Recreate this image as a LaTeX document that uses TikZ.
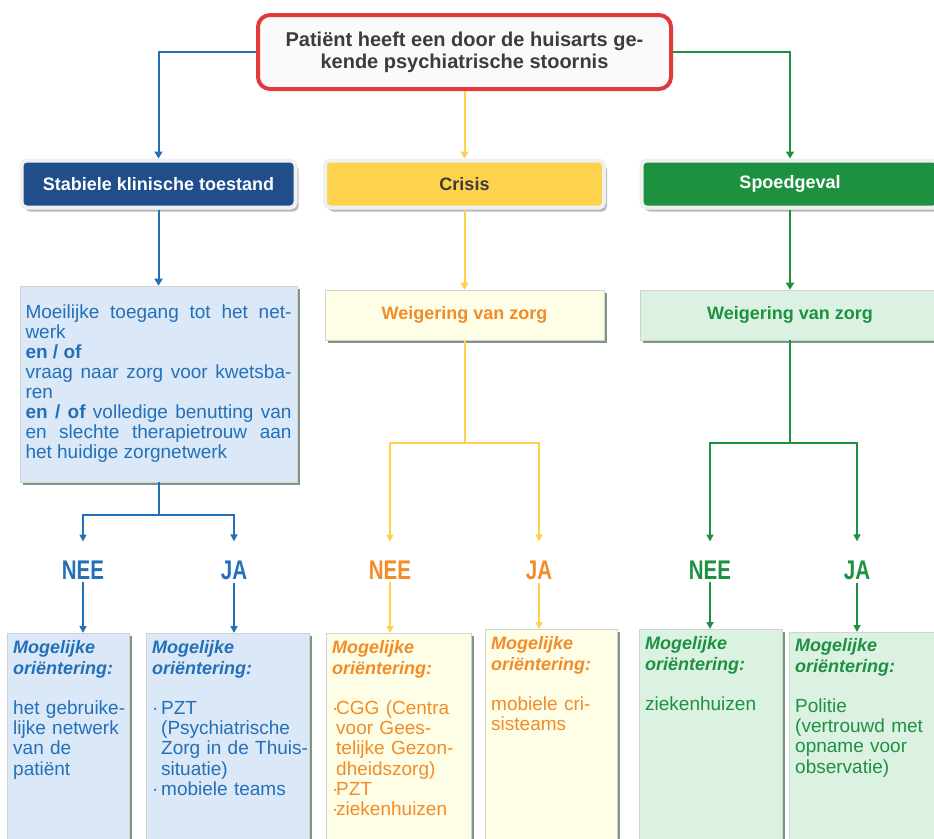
\documentclass[tikz,border=0pt]{standalone}
\usepackage{fontspec}
\setmainfont{Liberation Sans}
\usetikzlibrary{arrows.meta,shadows}

\definecolor{rood}{HTML}{E03A3C}
\definecolor{donkerblauw}{HTML}{1F4E8B}
\definecolor{blauw}{HTML}{2470B8}
\definecolor{lichtblauw}{HTML}{DAE8F7}
\definecolor{geel}{HTML}{FDD34D}
\definecolor{lichtgeel}{HTML}{FEFEE7}
\definecolor{oranje}{HTML}{F28C28}
\definecolor{groen}{HTML}{1E9141}
\definecolor{lichtgroen}{HTML}{DBF1E2}
\definecolor{donkergrijs}{HTML}{3C3C3C}
\definecolor{schaduw}{HTML}{7F9686}

\newcommand\kopje{{\bfseries\itshape\fontsize{18}{20}\selectfont Mogelijke\\oriëntering:}}

\begin{document}
\begin{tikzpicture}[x=1pt,y=-1pt,
        kop/.style={rounded corners=5pt, draw=gray!12, line width=4pt, minimum height=47pt,
            font=\bfseries\fontsize{18}{20}\selectfont,
            drop shadow={shadow xshift=3pt,shadow yshift=-4pt,fill=black!60,opacity=0.45}},
        vlak/.style={draw=gray!35, line width=0.6pt,
            drop shadow={shadow xshift=3pt,shadow yshift=-3pt,fill=schaduw,opacity=1}},
        lijn/.style={line width=2pt, -{Triangle[width=8pt,length=7pt]}},
        pijl/.style={line width=1.6pt, -{Triangle[width=7pt,length=7pt]}},
        keuze/.style={font=\bfseries\fontsize{27}{27}\selectfont, inner sep=0pt, xscale=0.76, transform shape},
        tekst/.style={anchor=north west, inner sep=0pt, align=left, text width=200pt,
            font=\fontsize{19}{20.3}\selectfont}]
            \useasboundingbox (0,0) rectangle (934,838);

            % 顶部方框
            \node[draw=rood, line width=4pt, rounded corners=12pt, fill=gray!4,
                minimum width=413pt, minimum height=74pt, align=center, text=donkergrijs,
                font=\bfseries\fontsize{20}{22}\selectfont] (pat) at (464.5,52)
                {Patiënt heeft een door de huisarts ge-\\kende psychiatrische stoornis};

            \node[kop, fill=donkerblauw, text=white, minimum width=274pt] (stab) at (158.5,184) {Stabiele klinische toestand};
            \node[kop, fill=geel, text=donkergrijs, minimum width=279pt] (cris) at (464.5,184) {Crisis};
            \node[kop, fill=groen, text=white, minimum width=297pt] (spoed) at (790,184) {Spoedgeval};

            \draw[lijn, blauw] (pat.west) -| (stab.north);
            \draw[lijn, geel] (pat.south) -- (cris.north);
            \draw[lijn, groen] (pat.east) -| (spoed.north);

            \node[vlak, fill=lichtblauw, minimum width=277pt, minimum height=196pt, inner sep=5pt,
                text width=266pt, align=justify, text=blauw, font=\fontsize{19}{20}\selectfont] (moei) at (158.5,384)
                {Moeilijke toegang tot het net-\linebreak werk\\
                \textbf{en / of}\\
                vraag naar zorg voor kwetsba-\linebreak ren\\
                \textbf{en / of} volledige benutting van\linebreak
                en slechte therapietrouw aan\linebreak
                het huidige zorgnetwerk};
            \node[vlak, fill=lichtgeel, minimum width=279pt, minimum height=50pt, text=oranje,
                font=\bfseries\fontsize{18}{20}\selectfont] (weig1) at (464.5,315) {Weigering van zorg};
            \node[vlak, fill=lichtgroen, minimum width=300pt, minimum height=50pt, text=groen,
                font=\bfseries\fontsize{18}{20}\selectfont] (weig2) at (790,315) {Weigering van zorg};

            \draw[lijn, blauw] (stab.south) -- (moei.north);
            \draw[lijn, geel] (cris.south) -- (weig1.north);
            \draw[lijn, groen] (spoed.south) -- (weig2.north);

            % NEE / JA
            \node[keuze, text=blauw] (bnee) at (83,570) {NEE};
            \node[keuze, text=blauw] (bja) at (234,570) {JA};
            \node[keuze, text=oranje] (onee) at (390,570) {NEE};
            \node[keuze, text=oranje] (oja) at (539,570) {JA};
            \node[keuze, text=groen] (gnee) at (710,570) {NEE};
            \node[keuze, text=groen] (gja) at (857,570) {JA};

            \coordinate (bsplit) at (158.5,515);
            \coordinate (osplit) at (464.5,443);
            \coordinate (gsplit) at (790,443);

            \draw[line width=2pt, blauw] (moei.south) -- (bsplit);
            \draw[pijl, blauw, shorten >=19pt] (bsplit) -| (bnee.north);
            \draw[pijl, blauw, shorten >=19pt] (bsplit) -| (bja.north);
            \draw[line width=2pt, geel] (weig1.south) -- (osplit);
            \draw[pijl, geel, shorten >=19pt] (osplit) -| (onee.north);
            \draw[pijl, geel, shorten >=19pt] (osplit) -| (oja.north);
            \draw[line width=2pt, groen] (weig2.south) -- (gsplit);
            \draw[pijl, groen, shorten >=19pt] (gsplit) -| (gnee.north);
            \draw[pijl, groen, shorten >=19pt] (gsplit) -| (gja.north);

            % onderste vakken
            \node[vlak, fill=lichtblauw, anchor=north west, minimum width=122pt, minimum height=220pt] (bb1) at (7,633) {};
            \node[vlak, fill=lichtblauw, anchor=north west, minimum width=163pt, minimum height=220pt] (bb2) at (146,633) {};
            \node[vlak, fill=lichtgeel, anchor=north west, minimum width=145pt, minimum height=220pt] (ob1) at (326,633) {};
            \node[vlak, fill=lichtgeel, anchor=north west, minimum width=132pt, minimum height=220pt] (ob2) at (485,629) {};
            \node[vlak, fill=lichtgroen, anchor=north west, minimum width=143pt, minimum height=220pt] (gb1) at (639,629) {};
            \node[vlak, fill=lichtgroen, anchor=north west, minimum width=160pt, minimum height=220pt] (gb2) at (789,632) {};

            \draw[pijl, blauw, shorten <=3pt] (bnee.south) -- (bnee.south |- bb1.north);
            \draw[pijl, blauw, shorten <=3pt] (bja.south) -- (bja.south |- bb2.north);
            \draw[pijl, geel, shorten <=3pt] (onee.south) -- (onee.south |- ob1.north);
            \draw[pijl, geel, shorten <=3pt] (oja.south) -- (oja.south |- ob2.north);
            \draw[pijl, groen, shorten <=3pt] (gnee.south) -- (gnee.south |- gb1.north);
            \draw[pijl, groen, shorten <=3pt] (gja.south) -- (gja.south |- gb2.north);

            \node[tekst, text=blauw] (tb1) at (13,640.5)
                {\kopje\\[20pt]het gebruike-\\lijke netwerk\\van de\\patiënt};
            \node[tekst, text=blauw] (tb2) at (152,640.5)
                {\kopje\\[20pt]\makebox[9pt][l]{·}PZT\\
                \hspace*{9pt}(Psychiatrische\\
                \hspace*{9pt}Zorg in de Thuis-\\
                \hspace*{9pt}situatie)\\
                \makebox[9pt][l]{·}mobiele teams};
            \node[tekst, text=oranje] (to1) at (332,640.5)
                {\kopje\\[20pt]\makebox[4pt][l]{·}CGG (Centra\\
                \hspace*{4pt}voor Gees-\\
                \hspace*{4pt}telijke Gezon-\\
                \hspace*{4pt}dheidszorg)\\
                \makebox[4pt][l]{·}PZT\\
                \makebox[4pt][l]{·}ziekenhuizen};
            \node[tekst, text=oranje] (to2) at (491,636.5)
                {\kopje\\[20pt]mobiele cri-\\sisteams};
            \node[tekst, text=groen] (tg1) at (645,636.5)
                {\kopje\\[20pt]ziekenhuizen};
            \node[tekst, text=groen] (tg2) at (795,638.5)
                {\kopje\\[20pt]Politie\\(vertrouwd met\\opname voor\\observatie)};
        \end{tikzpicture}
\end{document}
